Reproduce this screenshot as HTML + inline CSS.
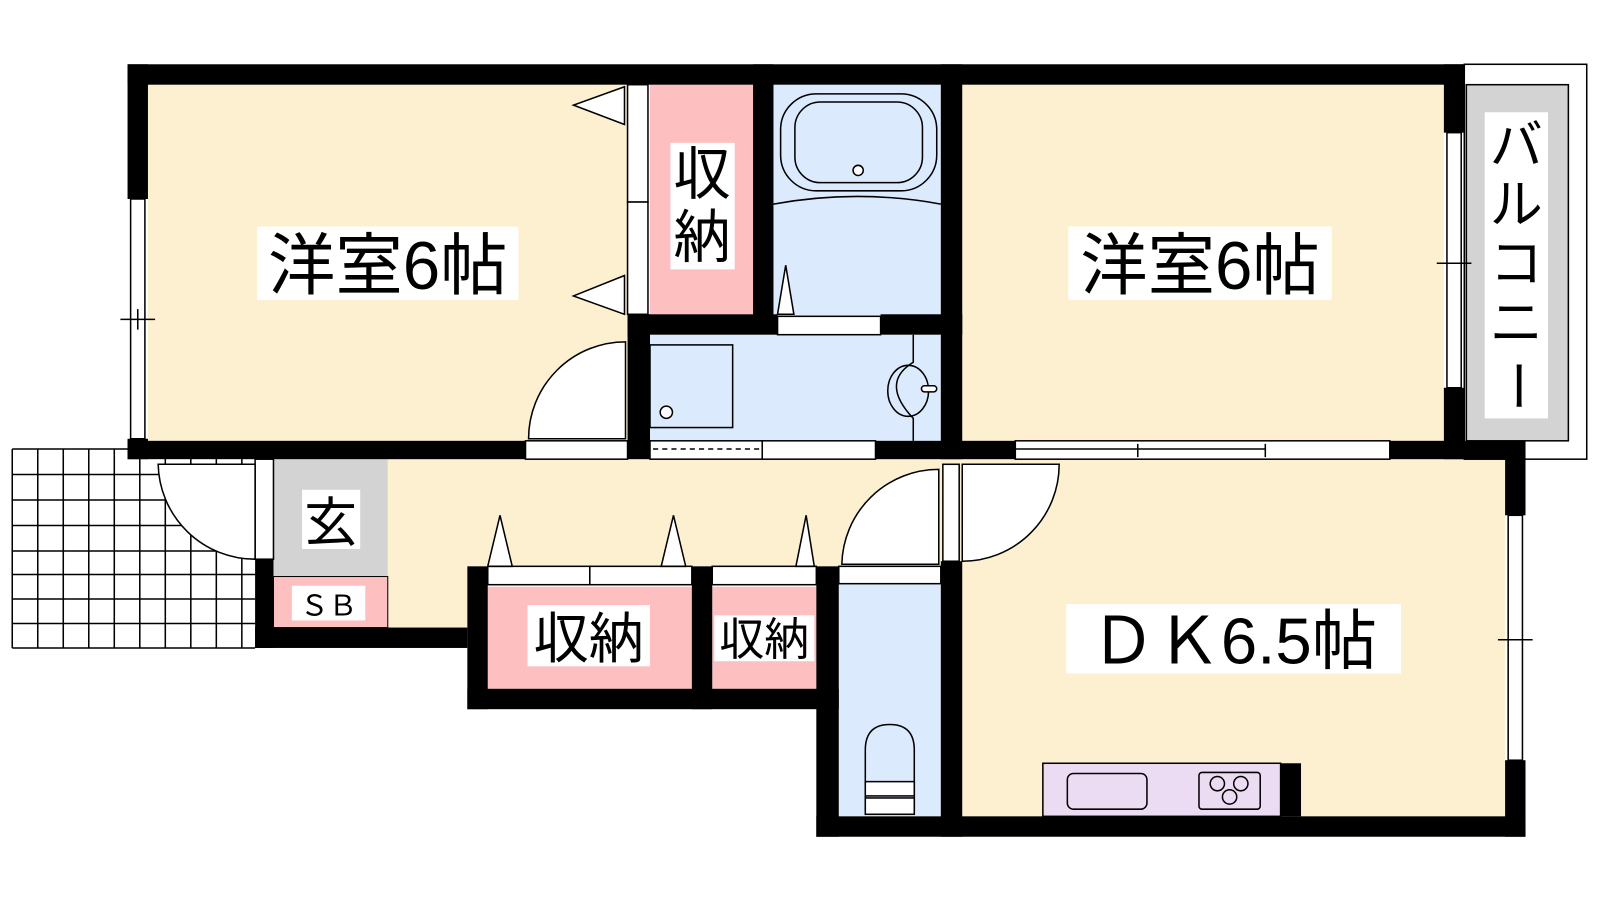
<!DOCTYPE html>
<html><head><meta charset="utf-8"><style>
html,body{margin:0;padding:0;background:#fff;width:1600px;height:900px;overflow:hidden}
svg text{font-family:"Liberation Sans","Noto Sans CJK JP",sans-serif;fill:#000}
</style></head><body>
<svg width="1600" height="900" viewBox="0 0 1568 882" preserveAspectRatio="none" xmlns="http://www.w3.org/2000/svg">
<rect x="12" y="440" width="238" height="195" fill="#fff"/>
<g stroke="#000" stroke-width="1.5" fill="none">
<path d="M12 440V635M37 440V635M62 440V635M87 440V635M112 440V635M137 440V635M162 440V635M187 440V635M212 440V635M237 440V635"/>
<path d="M12 440H250M12 465H250M12 490H250M12 515H250M12 540H250M12 563H250M12 587H250M12 611H250M12 635H250"/>
</g>
<rect x="145" y="83" width="470" height="349" fill="#fdf0d0"/>
<rect x="943" y="83" width="472" height="349" fill="#fdf0d0"/>
<rect x="943" y="450" width="532" height="350" fill="#fdf0d0"/>
<rect x="380" y="450" width="563" height="105" fill="#fdf0d0"/>
<rect x="380" y="555" width="78" height="60" fill="#fdf0d0"/>
<rect x="637" y="83" width="101" height="225" fill="#fdbfbf"/>
<rect x="758" y="83" width="164" height="227" fill="#dbeafd"/>
<rect x="637" y="328" width="285" height="104" fill="#dbeafd"/>
<rect x="822" y="572" width="100" height="228" fill="#dbeafd"/>
<rect x="268" y="450" width="112" height="115" fill="#d3d3d3"/>
<rect x="268" y="565" width="112" height="50" fill="#fdbfbf" stroke="#000" stroke-width="1"/>
<rect x="478" y="575" width="200" height="100" fill="#fdbfbf"/>
<rect x="698" y="575" width="102" height="100" fill="#fdbfbf"/>
<rect x="1435" y="63" width="120" height="387" fill="#fff" stroke="#000" stroke-width="1.5"/>
<rect x="1437" y="83" width="100" height="349" fill="#d3d3d3" stroke="#000" stroke-width="1.5"/>
<g fill="#000">
<rect x="125" y="63" width="1310" height="20"/>
<rect x="125" y="63" width="20" height="132"/>
<rect x="125" y="430" width="20" height="20"/>
<rect x="125" y="432" width="390" height="18"/>
<rect x="738" y="63" width="20" height="247"/>
<rect x="615" y="308" width="147" height="20"/>
<rect x="863" y="308" width="80" height="20"/>
<rect x="615" y="308" width="22" height="142"/>
<rect x="922" y="63" width="21" height="387"/>
<rect x="858" y="432" width="137" height="18"/>
<rect x="1362" y="432" width="133" height="18"/>
<rect x="1415" y="63" width="20" height="67"/>
<rect x="1415" y="380" width="20" height="70"/>
<rect x="1475" y="432" width="20" height="73"/>
<rect x="1475" y="745" width="20" height="75"/>
<rect x="800" y="800" width="695" height="20"/>
<rect x="800" y="555" width="22" height="265"/>
<rect x="922" y="550" width="21" height="270"/>
<rect x="250" y="548" width="18" height="87"/>
<rect x="250" y="615" width="208" height="20"/>
<rect x="458" y="555" width="20" height="140"/>
<rect x="458" y="675" width="364" height="20"/>
<rect x="678" y="555" width="20" height="140"/>
<rect x="1255" y="748" width="20" height="52"/>
</g>
<g stroke="#000" stroke-width="1.5" fill="#fff">
<rect x="128" y="195" width="14" height="235"/><path d="M118 313H152M135 303V323" fill="none"/>
<rect x="1418" y="130" width="14" height="250"/><path d="M1408 258H1442" fill="none"/>
<rect x="1478" y="505" width="14" height="240"/><path d="M1468 627H1502" fill="none"/>
<rect x="995" y="432" width="367" height="18"/><path d="M995 440H1240M1115 435V448M1240 435V448" fill="none"/>
<rect x="615" y="83" width="20" height="115"/><rect x="615" y="198" width="20" height="110"/>
<path d="M612 85L562 103L612 122Z"/><path d="M612 270L562 290L612 308Z"/>
<rect x="762" y="310" width="101" height="18"/>
<path d="M762 308L770 260L778 308Z"/>
<rect x="765" y="92" width="153" height="95" rx="35" fill="none"/>
<rect x="779" y="100" width="125" height="79" rx="25" fill="none"/>
<circle cx="841" cy="167" r="5"/>
<path d="M758 200Q840 185 922 200" fill="none"/>
<rect x="637" y="338" width="81" height="81" fill="none"/>
<circle cx="653" cy="404" r="6"/>
<path d="M895 328V355Q862 375 895 410V432" fill="none"/>
<ellipse cx="890" cy="383" rx="20" ry="25" fill="none"/>
<rect x="903" y="378" width="15" height="6" rx="3"/>
<rect x="637" y="432" width="110" height="18"/><path d="M640 440H745" stroke-dasharray="5,4" fill="none"/>
<rect x="747" y="432" width="111" height="18"/>
<rect x="515" y="432" width="100" height="18"/>
<path d="M613 335A95 95 0 0 0 518 430H613Z"/>
<rect x="250" y="450" width="18" height="98"/>
<path d="M155 455A95 95 0 0 0 250 548V455Z"/>
<rect x="478" y="555" width="100" height="18"/><rect x="578" y="555" width="100" height="18"/>
<rect x="698" y="555" width="102" height="18"/>
<path d="M478 555L490 505L502 555Z"/><path d="M648 555L660 505L672 555Z"/><path d="M780 555L790 505L798 555Z"/>
<rect x="822" y="555" width="100" height="17"/>
<path d="M920 460A95 95 0 0 0 825 553H920Z"/>
<rect x="924" y="455" width="16" height="95"/>
<path d="M943 455H1038A95 95 0 0 1 943 550Z"/>
<path d="M848 795V735Q848 710 872 710Q896 710 896 735V795" fill="none"/>
<rect x="848" y="766" width="48" height="14"/><rect x="848" y="782" width="48" height="16"/>
<rect x="1022" y="748" width="233" height="52" fill="#ecdcf3"/>
<rect x="1046" y="758" width="78" height="35" rx="6" fill="none"/>
<rect x="1175" y="757" width="60" height="36" rx="3" fill="none"/>
<circle cx="1193" cy="768" r="7" fill="none"/><circle cx="1216" cy="768" r="7" fill="none"/><circle cx="1205" cy="781" r="7" fill="none"/>
</g>
<g fill="#fff">
<rect x="252" y="222" width="256" height="72"/>
<rect x="1047" y="222" width="258" height="72"/>
<rect x="1045" y="592" width="328" height="68"/>
<rect x="657" y="140" width="63" height="124"/>
<rect x="1455" y="110" width="62" height="300"/>
<rect x="296" y="480" width="57" height="58"/>
<rect x="286" y="574" width="72" height="34"/>
<rect x="517" y="593" width="120" height="60"/>
<rect x="700" y="603" width="98" height="45"/>
</g>
<text x="380" y="283" font-size="66" text-anchor="middle">洋室6帖</text>
<text x="1176" y="283" font-size="66" text-anchor="middle">洋室6帖</text>
<text x="1209" y="650" font-size="64" text-anchor="middle">ＤＫ6.5帖</text>
<text x="688" y="190" font-size="56" text-anchor="middle">収</text>
<text x="688" y="252" font-size="56" text-anchor="middle">納</text>
<text x="1486" y="160" font-size="52" text-anchor="middle">バ</text>
<text x="1486" y="218" font-size="52" text-anchor="middle">ル</text>
<text x="1486" y="276" font-size="52" text-anchor="middle">コ</text>
<text x="1486" y="334" font-size="52" text-anchor="middle">ニ</text>
<text transform="translate(1486,378) rotate(90)" font-size="52" text-anchor="middle" dominant-baseline="central">ー</text>
<text x="324" y="530" font-size="52" text-anchor="middle">玄</text>
<text x="322" y="603" font-size="28" text-anchor="middle">ＳＢ</text>
<text x="577" y="645" font-size="54" text-anchor="middle">収納</text>
<text x="749" y="642" font-size="44" text-anchor="middle">収納</text>
</svg>
</body></html>
